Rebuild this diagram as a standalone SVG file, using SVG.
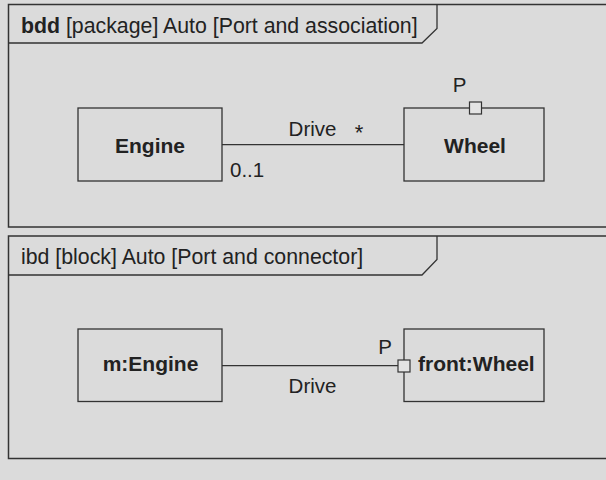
<svg xmlns="http://www.w3.org/2000/svg" width="606" height="480" viewBox="0 0 606 480">
<style>
.frame{fill:none;stroke:#333;stroke-width:1.5}
.tab{fill:none;stroke:#333;stroke-width:1.3}
.box{fill:none;stroke:#333;stroke-width:1.3}
.port{fill:#e4e4e4;stroke:#333;stroke-width:1.2}
.conn{fill:none;stroke:#333;stroke-width:1.2}
text{font-family:"Liberation Sans",Arial,sans-serif;fill:#222;font-size:20.5px}
.t{font-size:21.3px}
.b{font-weight:bold;font-size:21px}
.c{text-anchor:middle}
</style>
<rect width="606" height="480" fill="#dbdbdb"/>
<g id="frame-bdd">
<rect class="frame" x="8.5" y="4.5" width="610" height="222.5"/>
<path class="tab" d="M8.5,43 H422 L437,28.5 V4.5"/>
<text x="21" y="32.5" class="t"><tspan font-weight="bold">bdd</tspan> [package] Auto [Port and association]</text>
</g>
<g id="frame-ibd">
<rect class="frame" x="8.5" y="236" width="610" height="222.5"/>
<path class="tab" d="M8.5,275 H422 L437,259.5 V236"/>
<text x="21" y="263.5" class="t">ibd [block] Auto [Port and connector]</text>
</g>
<g id="connectors">
<line class="conn" x1="222" y1="144.7" x2="404" y2="144.7"/>
<text x="312.5" y="136" class="c">Drive</text>
<text x="359" y="139.5" class="c" style="font-size:22px">*</text>
<text x="230" y="177">0..1</text>
<line class="conn" x1="222" y1="365.7" x2="398" y2="365.7"/>
<text x="312.5" y="392.5" class="c">Drive</text>
</g>
<g id="engine">
<rect class="box" x="78" y="108" width="144" height="73"/>
<text x="150" y="152.5" class="b c">Engine</text>
</g>
<g id="wheel">
<rect class="box" x="404" y="108" width="140" height="73"/>
<text x="475" y="152.5" class="b c">Wheel</text>
<rect class="port" x="469.5" y="102" width="12" height="12"/>
<text x="459.5" y="92" class="c">P</text>
</g>
<g id="m-engine">
<rect class="box" x="78" y="329" width="144" height="72.5"/>
<text x="150.5" y="371" class="b c">m:Engine</text>
</g>
<g id="front-wheel">
<rect class="box" x="404" y="329" width="140" height="72.5"/>
<text x="418" y="371" class="b">front:Wheel</text>
<rect class="port" x="398" y="360" width="12" height="12"/>
<text x="385" y="353.5" class="c">P</text>
</g>
</svg>
